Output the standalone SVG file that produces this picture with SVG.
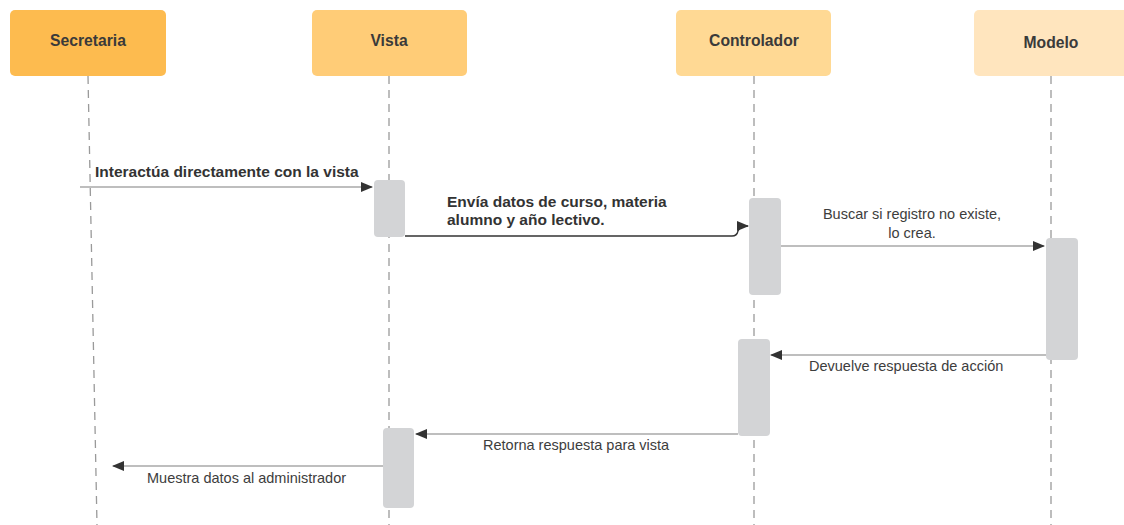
<svg xmlns="http://www.w3.org/2000/svg" width="1124" height="525" viewBox="0 0 1124 525">
<style>
.hdr{font-family:"Liberation Sans",Arial,sans-serif;font-weight:bold;font-size:15.7px;fill:#3a3a3a;text-anchor:middle}
.life{stroke:#9a9a9a;stroke-width:1.3;stroke-dasharray:8,6;fill:none}
.act{fill:#d3d4d6}
.msg{stroke:#a8a8a8;stroke-width:1.6;fill:none}
.lbl{font-family:"Liberation Sans",Arial,sans-serif;font-size:14.5px;fill:#3d3d3d}
.blbl{font-family:"Liberation Sans",Arial,sans-serif;font-size:15.5px;font-weight:bold;fill:#333}
</style>
<defs>
<marker id="ah" markerWidth="12" markerHeight="10" refX="11" refY="5" orient="auto" markerUnits="userSpaceOnUse">
<path d="M0,0 L12,5 L0,10 Z" fill="#333"/>
</marker>
</defs>
<rect width="1124" height="525" fill="#fff"/>
<g id="secretaria">
<rect x="10" y="10" width="156" height="66" rx="5" fill="#fdbb4f"/>
<text class="hdr" x="88" y="46">Secretaria</text>
<line class="life" x1="88" y1="76" x2="97" y2="525"/>
</g>
<g id="vista">
<rect x="312" y="10" width="155" height="66" rx="5" fill="#ffcc77"/>
<text class="hdr" x="389" y="46">Vista</text>
<line class="life" x1="389" y1="76" x2="389" y2="525"/>
</g>
<g id="controlador">
<rect x="676" y="10" width="155" height="66" rx="5" fill="#ffd994"/>
<text class="hdr" x="754" y="46">Controlador</text>
<line class="life" x1="754" y1="76" x2="754" y2="525"/>
</g>
<g id="modelo">
<rect x="974" y="10" width="160" height="66" rx="5" fill="#ffe5be"/>
<text class="hdr" x="1051" y="48">Modelo</text>
<line class="life" x1="1051" y1="76" x2="1051" y2="525"/>
</g>
<g id="activations">
<rect class="act" x="374" y="180" width="31" height="57" rx="4"/>
<rect class="act" x="749" y="198" width="32" height="97" rx="4"/>
<rect class="act" x="1046" y="238" width="32" height="122" rx="4"/>
<rect class="act" x="738" y="339" width="32" height="97" rx="4"/>
<rect class="act" x="383" y="428" width="31" height="80" rx="4"/>
</g>
<g id="connectors">
<line class="msg" x1="80" y1="187" x2="372" y2="187" marker-end="url(#ah)"/>
<path d="M405,236 L732,236 Q737,236 738,231 Q740,226 748,226" stroke="#333" stroke-width="1.3" fill="none" marker-end="url(#ah)"/>
<line class="msg" x1="781" y1="246" x2="1044" y2="246" marker-end="url(#ah)"/>
<line class="msg" x1="1046" y1="355" x2="771" y2="355" marker-end="url(#ah)"/>
<line class="msg" x1="738" y1="434" x2="416" y2="434" marker-end="url(#ah)"/>
<line class="msg" x1="383" y1="466" x2="113" y2="466" marker-end="url(#ah)"/>
</g>
<g id="labels">
<text class="blbl" x="95" y="177">Interactúa directamente con la vista</text>
<text class="blbl" x="447" y="207">Envía datos de curso, materia</text>
<text class="blbl" x="447" y="225">alumno y año lectivo.</text>
<text class="lbl" x="912" y="219" text-anchor="middle">Buscar si registro no existe,</text>
<text class="lbl" x="912" y="238" text-anchor="middle">lo crea.</text>
<text class="lbl" x="809" y="371">Devuelve respuesta de acción</text>
<text class="lbl" x="483" y="450">Retorna respuesta para vista</text>
<text class="lbl" x="147" y="483">Muestra datos al administrador</text>
</g>
</svg>
